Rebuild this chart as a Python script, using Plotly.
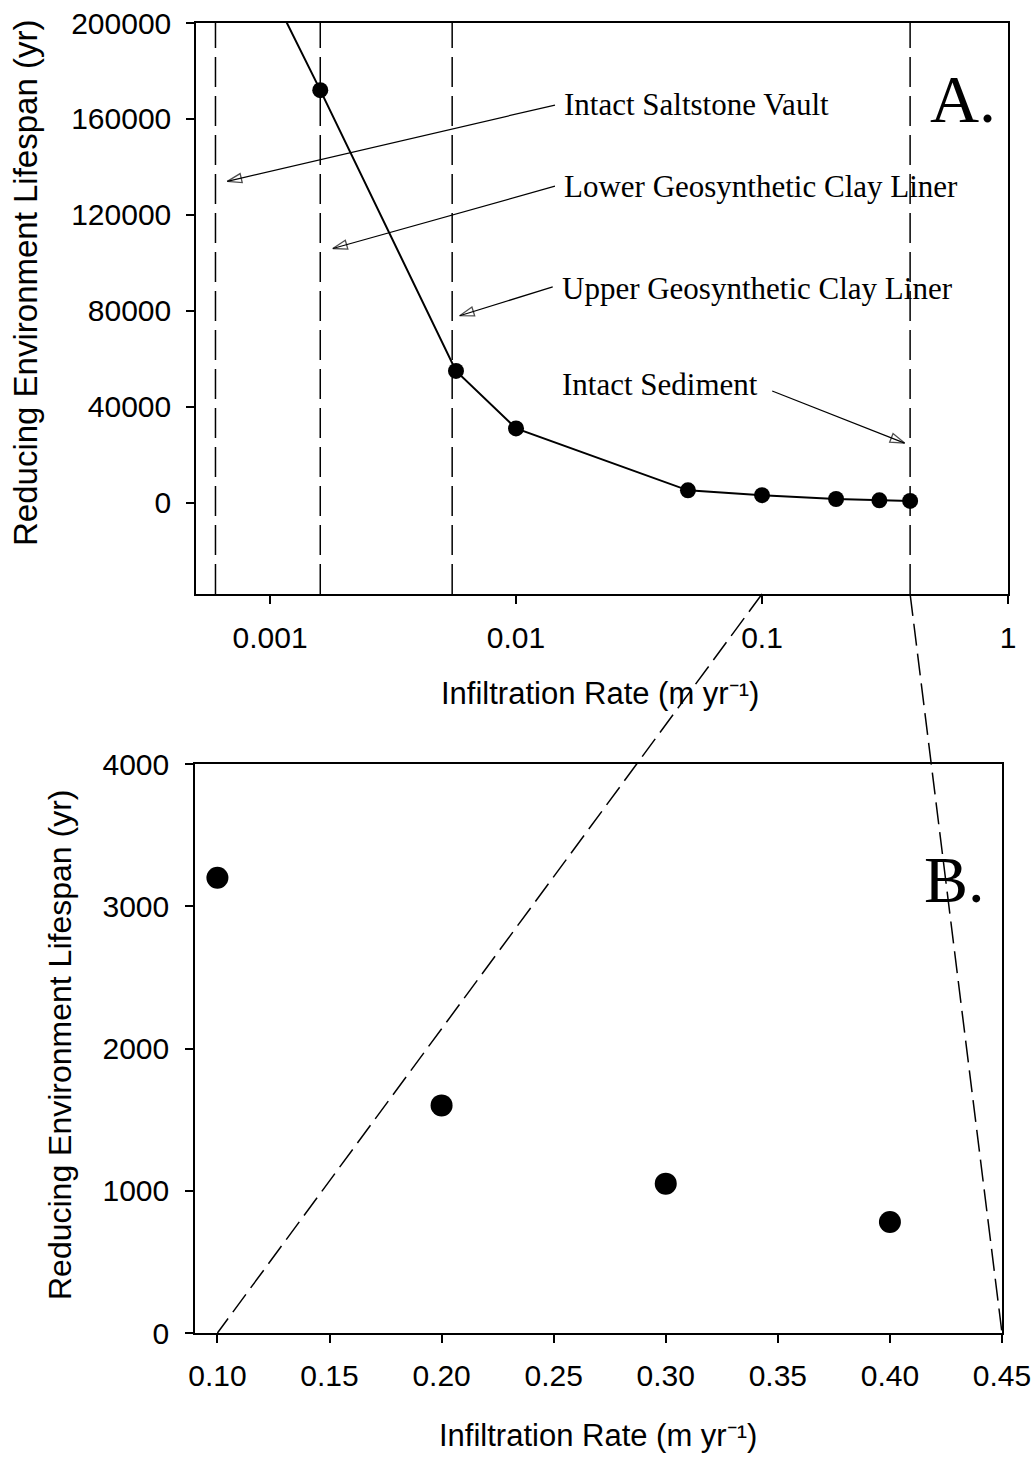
import math
import plotly.graph_objects as go

# ---------------- data ----------------
rate_a = [0.0006, 0.0016, 0.0057, 0.01, 0.05, 0.1, 0.2, 0.3, 0.4]
life_a = [260000, 172000, 55000, 31000, 5200, 3200, 1600, 1050, 780]

rate_b = [0.1, 0.2, 0.3, 0.4]
life_b = [3200, 1600, 1050, 780]

barrier_rates = [0.0006, 0.0016, 0.0055, 0.4]
barrier_labels = ["Intact Saltstone Vault", "Lower Geosynthetic Clay Liner",
                  "Upper Geosynthetic Clay Liner", "Intact Sediment"]
# where each label's arrow points (rate, lifespan)
arrow_tip_rate = [0.00067, 0.0018, 0.0059, 0.38]
arrow_tip_life = [134000, 106000, 78000, 24900]
# arrow tail (rate, lifespan)
arrow_tail_rate = [0.0144, 0.0144, 0.0141, 0.11]
arrow_tail_life = [165800, 132000, 90000, 46600]
# label anchor (rate, lifespan)
label_rate = [0.0154, 0.0154, 0.0151, 0.0151]
label_life = [166000, 132000, 89500, 49500]

xa_tickvals = [0.001, 0.01, 0.1, 1]
xa_ticktext = ["0.001", "0.01", "0.1", "1"]
ya_tickvals = [0, 40000, 80000, 120000, 160000, 200000]
xb_tickvals = [0.10, 0.15, 0.20, 0.25, 0.30, 0.35, 0.40, 0.45]
yb_tickvals = [0, 1000, 2000, 3000, 4000]

x_title = "Infiltration Rate (m yr\u207b\u00b9)"
y_title = "Reducing Environment Lifespan (yr)"

xa_range = [0.0005, 1.0]
ya_range = [-38000, 200000]
xb_range = [0.09, 0.45]
yb_range = [0, 4000]

# ---------------- layout geometry ----------------
W, H = 1034, 1458
xdomA = [196 / W, 1008 / W]
xdomB = [195 / W, 1002 / W]
ydomA = [1 - 594 / H, 1 - 23 / H]
ydomB = [1 - 1333 / H, 1 - 764 / H]

TICKFONT = dict(family="Liberation Sans, Arial", size=30, color="black")
SERIF = "Liberation Serif, Times New Roman"

fig = go.Figure()

fig.add_trace(go.Scatter(
    x=rate_a, y=life_a, mode="lines+markers",
    line=dict(color="black", width=2),
    marker=dict(color="black", size=16),
    xaxis="x", yaxis="y", showlegend=False,
))
fig.add_trace(go.Scatter(
    x=rate_b, y=life_b, mode="markers",
    marker=dict(color="black", size=22),
    xaxis="x2", yaxis="y2", showlegend=False,
))

# label arrows (tail -> tip) with open arrowheads oriented along the line
for ar, al, tr, tl in zip(arrow_tail_rate, arrow_tail_life, arrow_tip_rate, arrow_tip_life):
    fig.add_trace(go.Scatter(
        x=[ar, tr], y=[al, tl], mode="lines+markers",
        line=dict(color="black", width=1.2),
        marker=dict(symbol="arrow-open", size=[0, 15], angleref="previous",
                    color="black", line=dict(color="black", width=1.3)),
        xaxis="x", yaxis="y", showlegend=False, hoverinfo="skip",
    ))

axis_common = dict(showline=True, linecolor="black", linewidth=1.5, mirror=True,
                   ticks="outside", ticklen=8, tickwidth=1.5, tickcolor="black",
                   showgrid=False, zeroline=False, tickfont=TICKFONT,
                   automargin=False, ticklabeloverflow="allow")

fig.update_layout(
    width=W, height=H,
    margin=dict(l=0, r=0, t=0, b=0),
    paper_bgcolor="white", plot_bgcolor="white",
    xaxis=dict(type="log", domain=xdomA, anchor="y",
               range=[math.log10(xa_range[0]), math.log10(xa_range[1])],
               tickvals=xa_tickvals, ticktext=xa_ticktext,
               ticklabelstandoff=8, **axis_common),
    yaxis=dict(domain=ydomA, anchor="x", range=ya_range,
               tickvals=ya_tickvals, tickformat="d",
               ticklabelstandoff=9, **axis_common),
    xaxis2=dict(domain=xdomB, anchor="y2", range=xb_range,
                tickvals=xb_tickvals, tickformat=".2f",
                ticklabelstandoff=7, **axis_common),
    yaxis2=dict(domain=ydomB, anchor="x2", range=yb_range,
                tickvals=yb_tickvals, tickformat="d",
                ticklabelstandoff=10, **axis_common),
)

# vertical dashed barrier lines in panel A
for r in barrier_rates:
    fig.add_shape(type="line", xref="x", yref="y domain", x0=r, x1=r, y0=0, y1=1,
                  line=dict(color="black", width=1.5, dash="30px,9px"))

# labels in panel A
for lab, lr, ll in zip(barrier_labels, label_rate, label_life):
    fig.add_annotation(x=math.log10(lr), y=ll, xref="x", yref="y", text=lab,
                       showarrow=False, xanchor="left", yanchor="middle",
                       font=dict(family=SERIF, size=31, color="black"))


# helpers: data -> paper coordinates for the zoom connector lines
def paper_x_log(v):
    lo, hi = math.log10(xa_range[0]), math.log10(xa_range[1])
    return xdomA[0] + (math.log10(v) - lo) / (hi - lo) * (xdomA[1] - xdomA[0])


def paper_x_lin(v):
    return xdomB[0] + (v - xb_range[0]) / (xb_range[1] - xb_range[0]) * (xdomB[1] - xdomB[0])


for va, vb in [(0.1, 0.10), (0.4, 0.45)]:
    fig.add_shape(type="line", xref="paper", yref="paper",
                  x0=paper_x_log(va), y0=ydomA[0], x1=paper_x_lin(vb), y1=ydomB[0],
                  line=dict(color="black", width=1.5, dash="22px,8px"))

# panel letters
fig.add_annotation(x=928 / W, y=1 - 99 / H, xref="paper", yref="paper", text="A.",
                   showarrow=False, xanchor="left", yanchor="middle",
                   font=dict(family=SERIF, size=68, color="black"))
fig.add_annotation(x=922 / W, y=1 - 880 / H, xref="paper", yref="paper", text="B.",
                   showarrow=False, xanchor="left", yanchor="middle",
                   font=dict(family=SERIF, size=66, color="black"))

# axis titles
TITLEFONT = dict(family="Liberation Sans, Arial", size=31, color="black")
fig.add_annotation(x=600 / W, y=1 - 693 / H, xref="paper", yref="paper",
                   text=x_title, showarrow=False,
                   xanchor="center", yanchor="middle", font=TITLEFONT)
fig.add_annotation(x=598 / W, y=1 - 1435 / H, xref="paper", yref="paper",
                   text=x_title, showarrow=False,
                   xanchor="center", yanchor="middle", font=TITLEFONT)
fig.add_annotation(x=25 / W, y=1 - 283 / H, xref="paper", yref="paper",
                   text=y_title, showarrow=False,
                   textangle=-90, xanchor="center", yanchor="middle",
                   font=dict(family="Liberation Sans, Arial", size=33, color="black"))
fig.add_annotation(x=60 / W, y=1 - 1045 / H, xref="paper", yref="paper",
                   text=y_title, showarrow=False,
                   textangle=-90, xanchor="center", yanchor="middle",
                   font=dict(family="Liberation Sans, Arial", size=32, color="black"))

fig.write_html("out.html", config={"displayModeBar": False},
               post_script="document.body.style.margin='0';")
